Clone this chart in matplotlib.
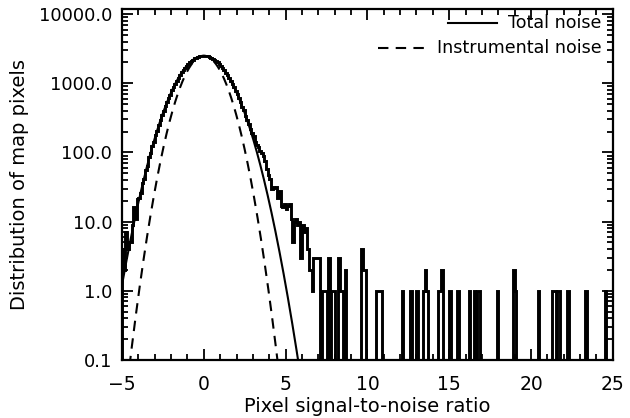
import numpy as np
import matplotlib
matplotlib.use("Agg")
import matplotlib.pyplot as plt
from matplotlib.ticker import FixedLocator, FuncFormatter, NullFormatter

# ---------------- data ----------------
bin_width = 0.1
x_start = -5.0
# histogram counts for bins from -5.0 up to 7.5 (bin centres -4.95 ... 7.45)
core_counts = [
    4, 2, 7, 4, 5, 5, 9, 16, 11, 21,
    22, 26, 36, 41, 55, 64, 85, 97, 124, 143,
    180, 206, 253, 290, 349, 396, 470, 528, 617, 688,
    790, 874, 990, 1083, 1210, 1310, 1441, 1546, 1678, 1779,
    1905, 2000, 2112, 2192, 2287, 2344, 2415, 2448, 2490, 2494,
    2502, 2478, 2459, 2401, 2356, 2274, 2205, 2100, 2012, 1893,
    1792, 1664, 1560, 1428, 1322, 1197, 1095, 978, 886, 779,
    699, 606, 540, 459, 406, 340, 298, 254, 216, 190,
    175, 140, 130, 118, 105, 98, 88, 76, 58, 48,
    42, 30, 32, 31, 32, 22, 28, 17, 16, 18,
    15, 17, 18, 11, 5, 10, 11, 9, 10, 3,
    9, 7, 8, 4, 2, 2, 1, 3, 3, 3,
    3, 0, 1, 1, 1,
]
# sparse tail beyond 7.5: bin centres and counts
tail_centres = [7.65, 7.85, 7.95, 8.25, 8.35, 8.45, 8.65, 9.65, 9.75, 9.85,
                10.55, 10.65, 10.75, 10.85, 12.15, 12.65, 13.05, 13.45, 13.55,
                13.65, 14.35, 14.45, 14.55, 15.05, 15.55, 16.25, 16.55, 16.75,
                16.85, 17.95, 18.95, 19.05, 20.45, 21.35, 21.45, 21.65, 21.75,
                22.25, 23.35, 24.55]
tail_counts = [3, 1, 1, 3, 1, 1, 2, 4, 2, 2,
               1, 1, 1, 1, 1, 1, 1, 1, 2,
               1, 1, 1, 2, 1, 1, 1, 1, 1,
               1, 1, 2, 1, 1, 1, 1, 1, 1,
               1, 1, 1]
n_bins = 300

# model curves (Gaussian fits)
total_peak, total_sigma = 2500.0, 1.28
instr_peak, instr_sigma = 2500.0, 1.00

legend_labels = ["Total noise", "Instrumental noise"]
x_label = "Pixel signal-to-noise ratio"
y_label = "Distribution of map pixels"
x_ticks = [-5, 0, 5, 10, 15, 20, 25]
y_ticks = [0.1, 1.0, 10.0, 100.0, 1000.0, 10000.0]

# ---------------- build ----------------
edges = x_start + bin_width * np.arange(n_bins + 1)
counts = np.zeros(n_bins)
counts[:len(core_counts)] = core_counts
for c, v in zip(tail_centres, tail_counts):
    idx = int(round((c - x_start) / bin_width - 0.5))
    counts[idx] = v

xs = np.linspace(-5, 25, 3000)
total_curve = total_peak * np.exp(-xs**2 / (2 * total_sigma**2))
instr_curve = instr_peak * np.exp(-xs**2 / (2 * instr_sigma**2))

# ---------------- plot ----------------
plt.rcParams['font.family'] = ['DejaVu Sans']
fig = plt.figure(figsize=(6.3, 4.18), dpi=100)
ax = fig.add_axes([0.1937, 0.139, 0.779, 0.839])
ax.set_yscale('log', nonpositive='clip')

dash = (0, (5, 3.5))
ax.stairs(counts, edges, color='black', lw=2.1)
ax.plot(xs, total_curve, color='black', lw=1.5)
ax.plot(xs, instr_curve, color='black', lw=1.5, linestyle=dash)

ax.set_xlim(-5, 25)
ax.set_ylim(0.1, 11800)

ax.xaxis.set_major_locator(FixedLocator(x_ticks))
ax.xaxis.set_minor_locator(FixedLocator(np.arange(-5, 26, 1)))
ax.yaxis.set_major_locator(FixedLocator(y_ticks))
minors = [m * 10.0**e for e in range(-1, 4) for m in range(2, 10)]
ax.yaxis.set_minor_locator(FixedLocator(minors))
ax.yaxis.set_major_formatter(FuncFormatter(lambda v, p: f"{v:.1f}"))
ax.yaxis.set_minor_formatter(NullFormatter())
ax.xaxis.set_major_formatter(FuncFormatter(lambda v, p: f"{int(v)}".replace('-', '\u2212')))

ax.tick_params(which='both', direction='in', top=True, right=True,
               width=1.3, colors='black')
ax.tick_params(which='major', length=8)
ax.tick_params(which='minor', length=4)
ax.tick_params(axis='x', which='major', labelsize=13.5, pad=11)
ax.tick_params(axis='y', which='major', labelsize=13, pad=7)
for s in ax.spines.values():
    s.set_linewidth(1.6)

ax.set_xlabel(x_label, fontsize=14, labelpad=2)
ax.set_ylabel(y_label, fontsize=14, labelpad=7)

# legend drawn manually (IDL style, right-hand entries)
tr = ax.transAxes
ax.plot([0.664, 0.764], [0.960, 0.960], transform=tr, color='black', lw=1.5)
ax.text(0.786, 0.960, legend_labels[0], transform=tr, fontsize=12.6,
        ha='left', va='center')
ax.plot([0.521, 0.623], [0.888, 0.888], transform=tr, color='black', lw=1.5,
        linestyle=dash)
ax.text(0.642, 0.888, legend_labels[1], transform=tr, fontsize=12.6,
        ha='left', va='center')

fig.savefig("out.png", dpi=100)
